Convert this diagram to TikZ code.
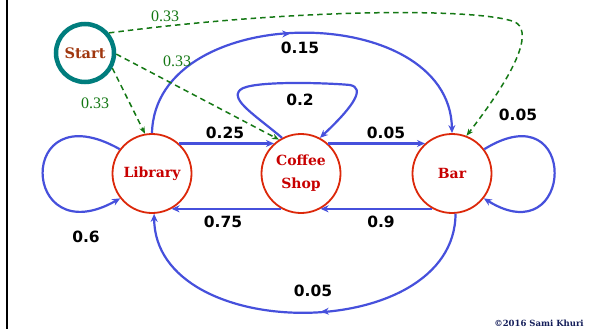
\documentclass[tikz,border=0pt]{standalone}
\usepackage{fontspec}
\setmainfont{DejaVu Serif}
\newfontfamily\lblfont{DejaVu Sans}
\newfontfamily\greenfont{Liberation Serif}
\usetikzlibrary{arrows.meta,decorations.markings}
\definecolor{edgeblue}{RGB}{70,80,220}
\definecolor{nodered}{RGB}{220,40,10}
\definecolor{textred}{RGB}{200,0,0}
\definecolor{startteal}{RGB}{0,125,125}
\definecolor{startbrown}{RGB}{160,55,15}
\definecolor{dashgreen}{RGB}{20,120,20}
\definecolor{copynavy}{RGB}{20,30,90}
\tikzset{
  statenode/.style={circle, draw=nodered, line width=1.8pt, minimum size=79pt, inner sep=0pt,
    text=textred, align=center, font=\bfseries\fontsize{14}{23}\selectfont},
  startnode/.style={circle, draw=startteal, line width=4.5pt, minimum size=58pt, inner sep=0pt,
    text=startbrown, font=\bfseries\fontsize{14.5}{16}\selectfont},
  probedge/.style={draw=edgeblue, line width=2.2pt, -{Stealth[length=8pt,width=7pt]}},
  startedge/.style={draw=dashgreen, line width=1.5pt, dash pattern=on 5.5pt off 4pt, -{Stealth[length=7pt,width=5.5pt]}},
  midtip/.style={postaction={decorate}, decoration={markings,
    mark=at position #1 with {\arrow{Stealth[length=8pt,width=7pt]}}}},
  problabel/.style={font=\lblfont\bfseries\fontsize{15.5}{17}\selectfont, text=black, inner sep=0pt},
  greenlabel/.style={font=\greenfont\fontsize{16}{18}\selectfont, text=dashgreen, inner sep=0pt},
}
\begin{document}
\begin{tikzpicture}[x=1pt,y=-1pt]
\useasboundingbox (0,0) rectangle (591,329);
\fill[white] (0,0) rectangle (591,329);
\draw[line width=2.5pt] (7,0) -- (7,329);

\node[startnode] (start) at (85,53) {Start};
\node[statenode] (lib) at (152,173.5) {Library};
\node[statenode] (cof) at (301,173.5) {Coffee\\Shop};
\node[statenode] (bar) at (452,173.5) {Bar};

% straight edges
\draw[probedge] (lib.48) -- (cof.132);
\draw[probedge] (cof.48) -- (bar.132);
\draw[probedge] (cof.241) -- (lib.299);
\draw[probedge] (bar.241) -- (cof.299);

% top arc library -> bar
\draw[probedge, midtip=0.47] (lib.90) .. controls (155,0) and (450,0) .. (bar.90);
% bottom arc bar -> library
\draw[probedge, midtip=0.46] (bar.-85) .. controls (455,345) and (155,345) .. (lib.-87);

% self loops
\draw[probedge] (lib.143) .. controls (15,90) and (20,255) .. (lib.-142);
\draw[probedge] (bar.37) .. controls (580,90) and (575,255) .. (bar.-38);
\draw[probedge] (cof.118) .. controls (255,115) and (230,100) .. (240,90)
   .. controls (250,80) and (330,83) .. (350,85)
   .. controls (365,88) and (355,105) .. (cof.62);

% start edges
\draw[startedge] (start.-29) -- (lib.100);
\draw[startedge] (start.-2) -- (cof.123);
\draw[startedge] (start.40) .. controls (300,8) and (480,8) .. (515,22)
   .. controls (530,30) and (525,60) .. (bar.69);

% labels
\node[problabel] (l1) at (225,133) {0.25};
\node[problabel] (l2) at (386,133) {0.05};
\node[problabel] (l3) at (223,222) {0.75};
\node[problabel] (l4) at (381,222) {0.9};
\node[problabel] (l5) at (300,48) {0.15};
\node[problabel] (l6) at (300,100) {0.2};
\node[problabel] (l7) at (86,237) {0.6};
\node[problabel] (l8) at (518,115) {0.05};
\node[problabel] (l9) at (313,291) {0.05};
\node[greenlabel] (g1) at (165,16) {0.33};
\node[greenlabel] (g2) at (177,61) {0.33};
\node[greenlabel] (g3) at (95,103) {0.33};

\node[font=\bfseries\fontsize{8.5}{9}\selectfont, text=copynavy, inner sep=0pt] (copy) at (539,323) {©2016 Sami Khuri};
\end{tikzpicture}
\end{document}
